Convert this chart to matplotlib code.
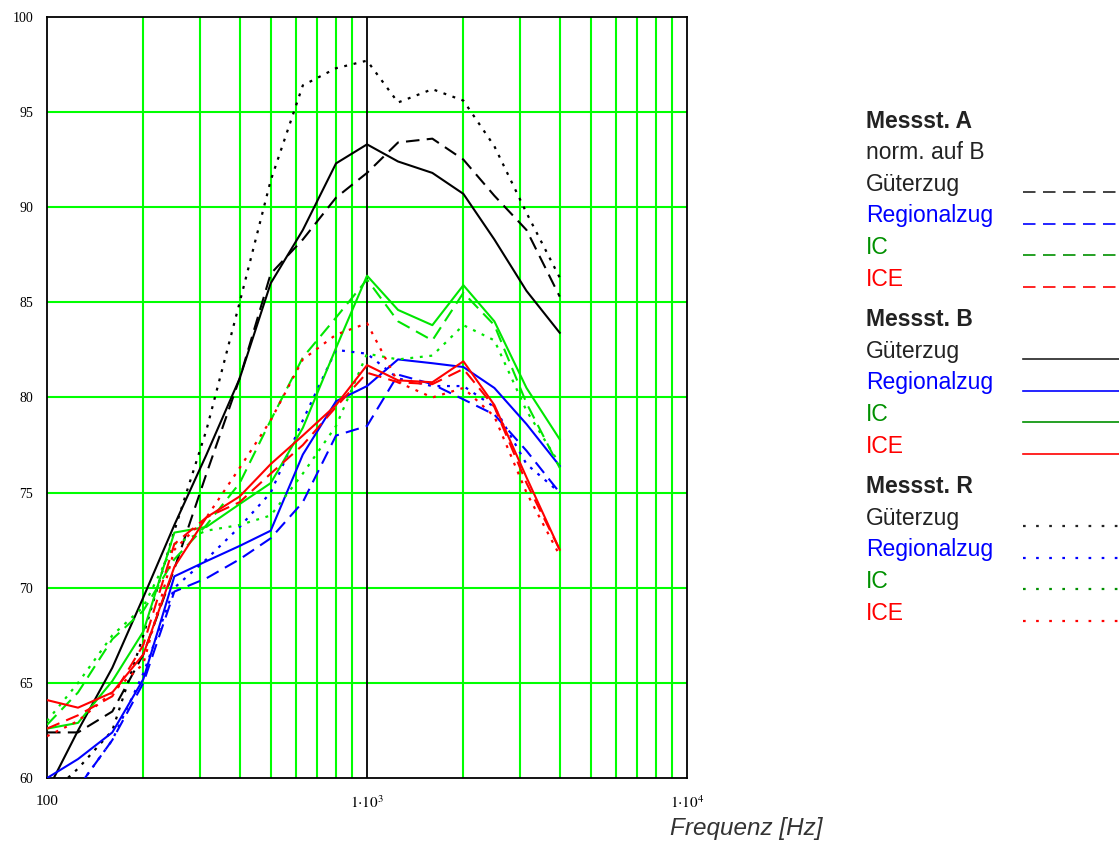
import numpy as np
import matplotlib
matplotlib.use("Agg")
import matplotlib.pyplot as plt
from matplotlib.lines import Line2D
from matplotlib.ticker import FixedLocator, NullFormatter

plt.rcParams['mathtext.fontset'] = 'stix'

# Terzband-Mittenfrequenzen
freq = [100, 125, 160, 200, 250, 315, 400, 500, 630, 800, 1000, 1250, 1600, 2000, 2500, 3150, 4000]

# Messst. A (norm. auf B) - gestrichelt
gueter_A   = [62.4, 62.4, 63.5, 66.5, 71.0, 76.0, 81.0, 86.5, 88.3, 90.5, 91.8, 93.4, 93.6, 92.5, 90.6, 88.8, 85.3]
regional_A = [58.5, 59.5, 62.0, 65.0, 69.8, 70.5, 71.5, 72.6, 74.5, 78.0, 78.5, 81.2, 80.7, 79.9, 79.1, 77.2, 75.0]
ic_A       = [62.8, 64.5, 67.3, 68.8, 71.5, 73.3, 75.5, 78.8, 82.1, 84.2, 86.2, 84.0, 83.0, 85.5, 83.8, 79.7, 76.3]
ice_A      = [62.6, 63.3, 64.3, 67.0, 72.3, 73.7, 74.5, 76.0, 77.5, 79.5, 81.3, 80.8, 80.7, 81.5, 79.5, 75.5, 72.0]

# Messst. B - durchgezogen
gueter_B   = [59.3, 62.5, 65.8, 69.5, 73.3, 77.0, 81.0, 86.0, 88.8, 92.3, 93.3, 92.4, 91.8, 90.7, 88.3, 85.6, 83.4]
regional_B = [60.0, 61.0, 62.4, 65.2, 70.6, 71.4, 72.2, 73.0, 77.0, 79.8, 80.6, 82.0, 81.8, 81.6, 80.5, 78.6, 76.4]
ic_B       = [62.6, 62.9, 65.1, 67.7, 72.9, 73.2, 74.4, 75.5, 78.4, 82.6, 86.4, 84.6, 83.8, 85.9, 84.0, 80.5, 77.8]
ice_B      = [64.1, 63.7, 64.5, 66.5, 71.1, 73.7, 74.8, 76.5, 78.0, 79.6, 81.7, 80.9, 80.8, 81.9, 79.6, 75.8, 72.0]

# Messst. R - gepunktet
gueter_R   = [59.0, 60.5, 62.5, 67.5, 73.0, 78.3, 85.0, 91.4, 96.4, 97.3, 97.7, 95.5, 96.2, 95.6, 93.2, 89.7, 86.3]
regional_R = [59.0, 59.5, 62.0, 65.5, 70.0, 71.5, 73.2, 75.0, 78.8, 82.5, 82.3, 81.0, 80.6, 80.6, 79.5, 76.5, 75.0]
ic_R       = [63.0, 65.0, 67.5, 69.0, 72.3, 73.0, 73.3, 73.8, 76.0, 78.5, 82.3, 82.0, 82.2, 83.8, 83.0, 79.3, 76.5]
ice_R      = [62.2, 63.0, 64.5, 66.0, 72.0, 73.7, 76.3, 78.8, 82.0, 83.3, 83.9, 80.8, 80.0, 80.5, 79.0, 75.0, 71.7]

zuege = ["Güterzug", "Regionalzug", "IC", "ICE"]
farben = ["black", "#0000ff", "#00e600", "#ff0000"]
legend_farben = ["#222222", "#0000ff", "#009000", "#ff0000"]

dashed = (0, (6.5, 3.5))
dotted = (0, (1.3, 3.0))

fig = plt.figure(figsize=(11.19, 8.43), dpi=100)
ax = fig.add_axes([0.042, 0.077, 0.572, 0.903])

# Gitter
ax.set_xscale('log')
ax.set_xlim(100, 10000)
ax.set_ylim(60, 100)
minor = [m * 10 ** e for e in (2, 3) for m in range(2, 10)]
ax.xaxis.set_minor_locator(FixedLocator(minor))
ax.xaxis.set_minor_formatter(NullFormatter())
ax.xaxis.set_major_locator(FixedLocator([100, 1000, 10000]))
ax.set_xticklabels(["100", r"$1{\cdot}10^{3}$", r"$1{\cdot}10^{4}$"],
                   family="Liberation Serif", fontsize=11)
ax.set_yticks(range(60, 101, 5))
ax.set_yticklabels([str(v) for v in range(60, 101, 5)], family="Liberation Serif", fontsize=10)
ax.tick_params(which='both', length=0)
ax.tick_params(axis='x', pad=12)
ax.tick_params(axis='y', pad=10)
ax.grid(True, which='minor', axis='x', color='#00ff00', lw=1.5, zorder=0)
for v in range(65, 100, 5):
    ax.axhline(v, color='#00ff00', lw=1.5, zorder=0)
ax.axvline(1000, color='black', lw=1.3, zorder=1)
for s in ax.spines.values():
    s.set_linewidth(1.3)

# Kurven
for i in range(4):
    ax.plot(freq, [gueter_A, regional_A, ic_A, ice_A][i], color=farben[i], lw=1.5, ls=dashed, zorder=3)
    ax.plot(freq, [gueter_B, regional_B, ic_B, ice_B][i], color=farben[i], lw=1.5, ls='-', zorder=3)
    ax.plot(freq, [gueter_R, regional_R, ic_R, ice_R][i], color=farben[i], lw=1.6, ls=dotted, zorder=3)

fig.text(0.735, 0.009, "Frequenz [Hz]", style='italic', family="Liberation Sans",
         fontsize=17.5, ha='right', va='baseline', color='#333333')

# Legende (Koordinaten in Bildpunkten)
lax = fig.add_axes([0, 0, 1, 1])
lax.set_xlim(0, 1119)
lax.set_ylim(843, 0)
lax.axis('off')

gruppen = [("Messst. A", (0, (7.5, 4.5)), 1.2), ("Messst. B", '-', 1.2), ("Messst. R", (0, (1.2, 4.7)), 1.6)]
zeile_h = 31.6
y = 121.0
for titel, lstil, lbreite in gruppen:
    lax.text(866, y, titel, fontsize=16.5, fontweight='bold', family="Liberation Sans",
             color='#222222', va='center')
    y += zeile_h
    if titel == "Messst. A":
        lax.text(866, y, "norm. auf B", fontsize=16.5, family="Liberation Sans",
                 color='#222222', va='center')
        y += zeile_h
    for name, fc in zip(zuege, legend_farben):
        lax.text(866, y, name, fontsize=16.5, family="Liberation Sans", color=fc, va='center')
        lax.add_line(Line2D([1023, 1125], [y + 8, y + 8], color=fc, lw=lbreite, ls=lstil))
        y += zeile_h
    y += 9

fig.savefig("out.png", dpi=100)
